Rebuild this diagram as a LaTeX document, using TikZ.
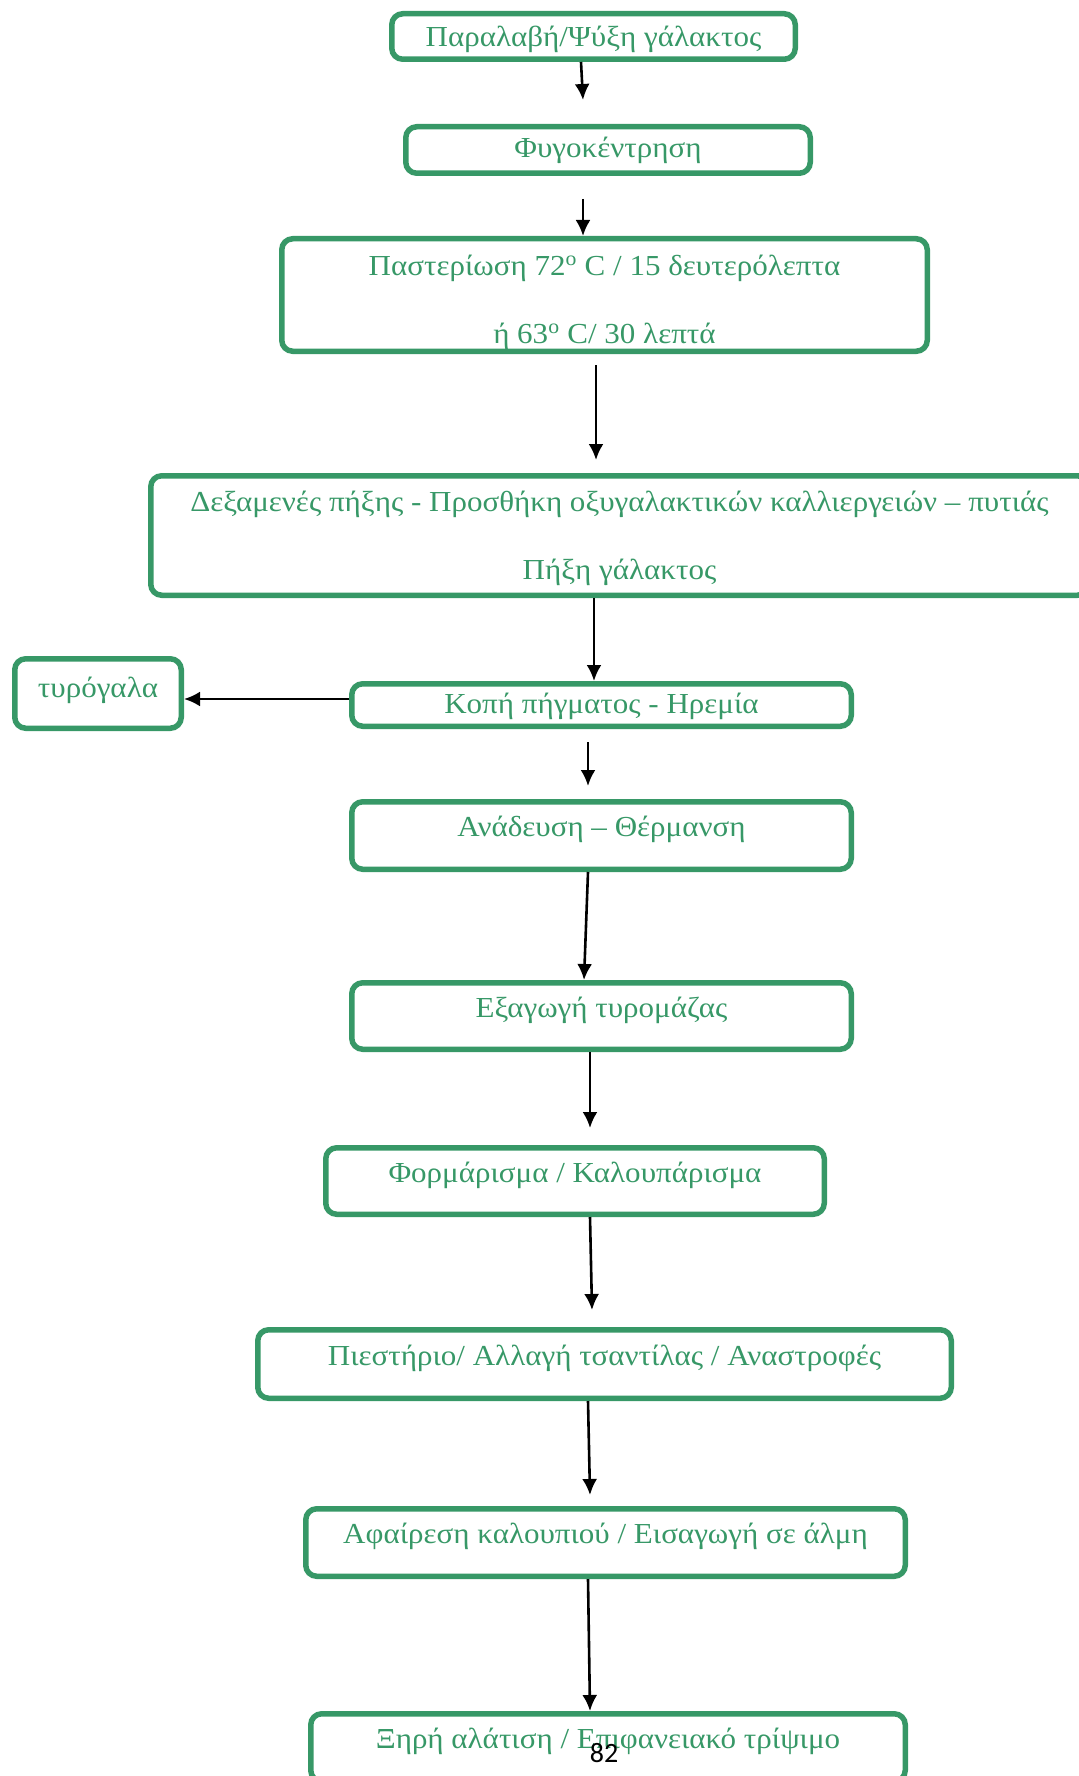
\documentclass[tikz,border=0pt]{standalone}
\usepackage{fontspec}
\setmainfont{Liberation Serif}[FakeStretch=1.07]
\newfontfamily\pagefont{Carlito}
\usetikzlibrary{arrows.meta}
\definecolor{flowgreen}{RGB}{55,152,103}

\begin{document}
\begin{tikzpicture}[x=1pt, y=-1pt,
    boxbase/.style={draw=flowgreen, line width=5.5pt, rounded corners=11pt, text=flowgreen, font=\fontsize{29}{34}\selectfont, inner sep=0pt, text height=28pt},
    stepbox/.style={boxbase},
    lowbox/.style={stepbox, text depth=12pt},
    tallbox/.style={stepbox, text depth=26pt},
    twobox/.style={boxbase, align=center},
    flowarrow/.style={-{Latex[length=16pt,width=15pt]}, line width=2.6pt},]

        \useasboundingbox (0,0) rectangle (1078,1776);

        % the process steps
        \node[stepbox, text depth=7pt, minimum width=403.5pt, minimum height=45.5pt] (recv) at (593.5,36.5) {Παραλαβή/Ψύξη γάλακτος};
        \node[lowbox, minimum width=404.5pt, minimum height=46.5pt] (centr) at (608,150) {Φυγοκέντρηση};
        \node[twobox, text height=100pt, text depth=4pt, minimum width=645.5pt, minimum height=112.5pt] (past) at (604.5,295) {Παστερίωση 72\textsuperscript{ο} C / 15 δευτερόλεπτα\\[34pt]ή 63\textsuperscript{ο} C/ 30 λεπτά};
        \node[twobox, text height=97pt, text depth=9pt, minimum width=937.5pt, minimum height=119.5pt] (tank) at (619.5,535.5) {Δεξαμενές πήξης - Προσθήκη οξυγαλακτικών καλλιεργειών – πυτιάς\\[34pt]Πήξη γάλακτος};
        \node[lowbox, minimum width=499.5pt, minimum height=42.5pt] (cut) at (601.5,705) {Κοπή πήγματος - Ηρεμία};
        \node[stepbox, text depth=21pt, minimum width=166.5pt, minimum height=69.5pt] (whey) at (98,693.5) {τυρόγαλα};
        \node[tallbox, minimum width=499.5pt, minimum height=67.5pt] (stir) at (601.5,835.5) {Ανάδευση – Θέρμανση};
        \node[tallbox, minimum width=499.5pt, minimum height=66.5pt] (drain) at (601.5,1016) {Εξαγωγή τυρομάζας};
        \node[tallbox, minimum width=498.5pt, minimum height=66.5pt] (mould) at (575,1181) {Φορμάρισμα / Καλουπάρισμα};
        \node[tallbox, minimum width=693.5pt, minimum height=68.5pt] (press) at (604.5,1364) {Πιεστήριο/ Αλλαγή τσαντίλας / Αναστροφές};
        \node[tallbox, minimum width=599.5pt, minimum height=67.5pt] (brine) at (605.5,1542.5) {Αφαίρεση καλουπιού / Εισαγωγή σε άλμη};
        \node[tallbox, minimum width=594.5pt, minimum height=67.5pt] (salt) at (608,1747.5) {Ξηρή αλάτιση / Επιφανειακό τρίψιμο};

        % arrow ends
        \coordinate (a1s) at (581,0);
        \coordinate (a1e) at (583,100);
        \coordinate (a2s) at (583,199);
        \coordinate (a3s) at (596,365);
        \coordinate (a3e) at (596,460);
        \coordinate (a4) at (594,0);
        \coordinate (side) at (0,699);
        \coordinate (a6s) at (588,742);
        \coordinate (a6e) at (588,786);
        \coordinate (a7s) at (588,0);
        \coordinate (a7e) at (584,0);
        \coordinate (a8s) at (590,0);
        \coordinate (a8e) at (590,1128);
        \coordinate (a9s) at (590,0);
        \coordinate (a9e) at (592,1310);
        \coordinate (a10s) at (588,0);
        \coordinate (a10e) at (590,1495);
        \coordinate (a11s) at (588,0);
        \coordinate (a11e) at (590,0);

        % arrows
        \draw[flowarrow] (a1s |- recv.south) -- (a1e);
        \draw[flowarrow] (a2s) -- (a2s |- past.north);
        \draw[flowarrow] (a3s) -- (a3e);
        \draw[flowarrow] (a4 |- tank.south) -- (a4 |- cut.north);
        \draw[flowarrow] (cut.west |- side) -- (whey.east |- side);
        \draw[flowarrow] (a6s) -- (a6e);
        \draw[flowarrow] (a7s |- stir.south) -- (a7e |- drain.north);
        \draw[flowarrow] (a8s |- drain.south) -- (a8e);
        \draw[flowarrow] (a9s |- mould.south) -- (a9e);
        \draw[flowarrow] (a10s |- press.south) -- (a10e);
        \draw[flowarrow] (a11s |- brine.south) -- (a11e |- salt.north);

        % page number
        \node[font=\pagefont\fontsize{28}{34}\selectfont, anchor=base] (pagenum) at (604,1762) {82};

\end{tikzpicture}
\end{document}
